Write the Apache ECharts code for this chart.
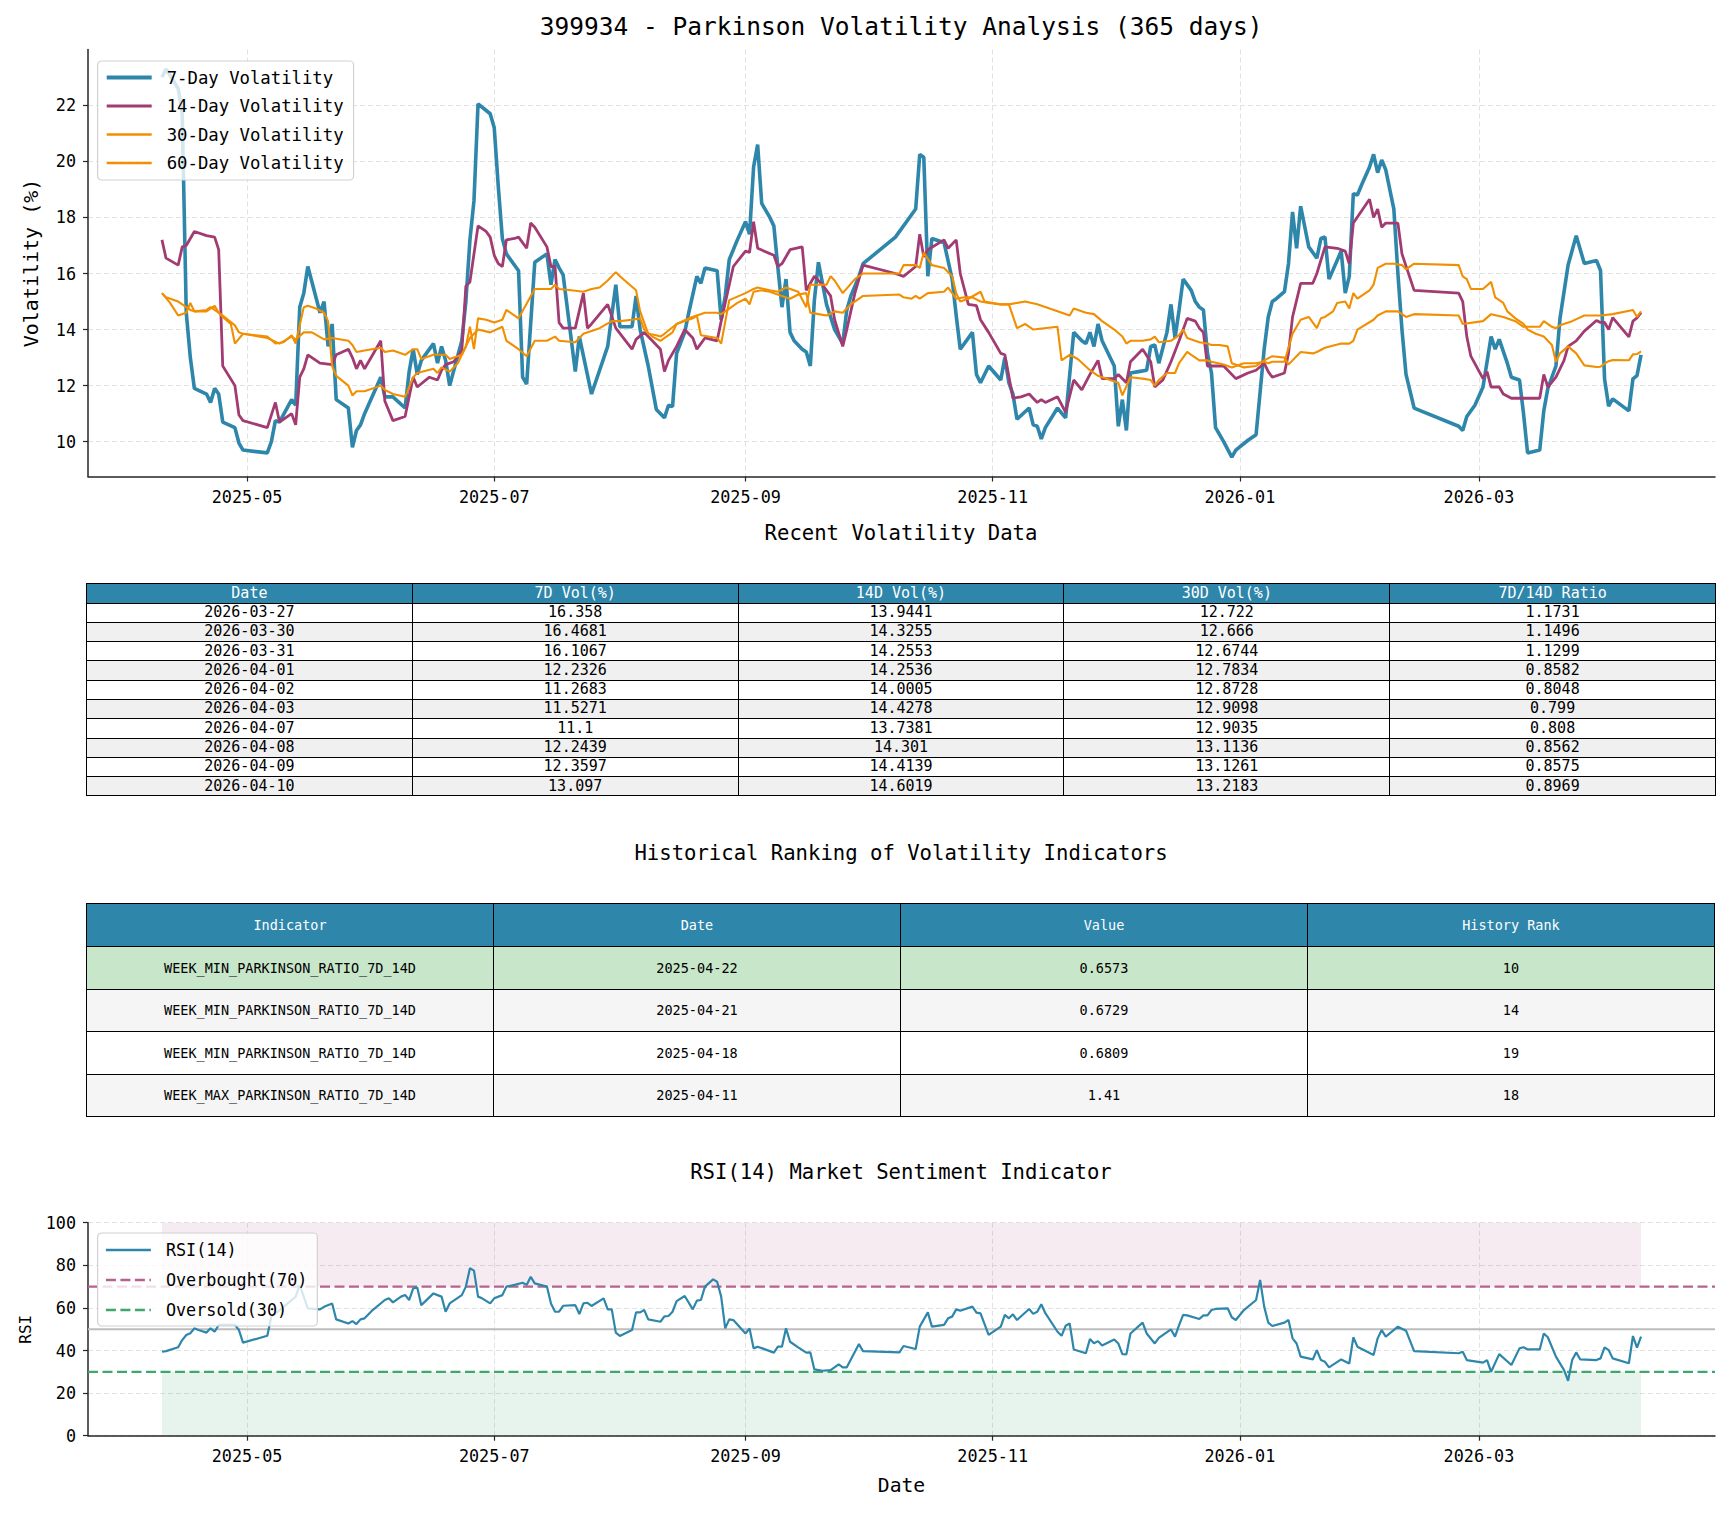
<!DOCTYPE html>
<html><head><meta charset="utf-8">
<script src="https://cdn.jsdelivr.net/npm/echarts@6/dist/echarts.min.js"></script>
<style>
html,body{margin:0;padding:0;background:#fff;}
#wrap{position:relative;width:1729px;height:1513px;overflow:hidden;}
#chart{position:absolute;left:0;top:0;width:1729px;height:1513px;}
table.tb{position:absolute;border-collapse:collapse;table-layout:fixed;font-family:'DejaVu Sans Mono',monospace;color:#000;}
table.tb td{border:1.6px solid #000;padding:0;text-align:center;vertical-align:middle;white-space:nowrap;overflow:hidden;box-sizing:border-box;}
table.tb td.h{background:#2E86AB;color:#fff;}
</style></head>
<body><div id="wrap"><div id="chart"></div><table class="tb" id="t1"></table><table class="tb" id="t2"></table></div>
<script>
// ---------------- DATA ----------------
const xTickLabels = ['2025-05','2025-07','2025-09','2025-11','2026-01','2026-03'];
const volTicks = [10,12,14,16,18,20,22];
const rsiTicks = [0,20,40,60,80,100];

const recentDates = ['2026-03-27','2026-03-30','2026-03-31','2026-04-01','2026-04-02','2026-04-03','2026-04-07','2026-04-08','2026-04-09','2026-04-10'];
const recent7d = [16.358,16.4681,16.1067,12.2326,11.2683,11.5271,11.1,12.2439,12.3597,13.097];
const recent14d = [13.9441,14.3255,14.2553,14.2536,14.0005,14.4278,13.7381,14.301,14.4139,14.6019];
const recent30d = [12.722,12.666,12.6744,12.7834,12.8728,12.9098,12.9035,13.1136,13.1261,13.2183];
const recentRatio = [1.1731,1.1496,1.1299,0.8582,0.8048,0.799,0.808,0.8562,0.8575,0.8969];

const rankIndicators = ['WEEK_MIN_PARKINSON_RATIO_7D_14D','WEEK_MIN_PARKINSON_RATIO_7D_14D','WEEK_MIN_PARKINSON_RATIO_7D_14D','WEEK_MAX_PARKINSON_RATIO_7D_14D'];
const rankDates = ['2025-04-22','2025-04-21','2025-04-18','2025-04-11'];
const rankValues = [0.6573,0.6729,0.6809,1.41];
const rankRanks = [10,14,19,18];

const vol7dEarly = [
['2025-04-10',23.0],['2025-04-11',23.3],['2025-04-14',22.6],['2025-04-15',21.7],['2025-04-16',14.6],['2025-04-17',13.0],['2025-04-18',11.9],['2025-04-21',11.7],['2025-04-22',11.4],['2025-04-23',11.9],['2025-04-24',11.7],['2025-04-25',10.7],['2025-04-28',10.5],['2025-04-29',9.95],['2025-04-30',9.7],
['2025-05-06',9.6],['2025-05-07',10.0],['2025-05-08',10.75],['2025-05-09',10.7],['2025-05-12',11.5],['2025-05-13',11.3],['2025-05-14',14.8],['2025-05-15',15.3],['2025-05-16',16.25],['2025-05-19',14.6],['2025-05-20',15.0],['2025-05-21',13.4],['2025-05-22',14.2],['2025-05-23',11.5],['2025-05-26',11.2],['2025-05-27',9.8],['2025-05-28',10.4],['2025-05-29',10.6],['2025-05-30',11.0],
['2025-06-03',12.3],['2025-06-04',11.6],['2025-06-06',11.6],['2025-06-09',11.2],['2025-06-10',12.5],['2025-06-11',13.3],['2025-06-12',12.4],['2025-06-13',12.9],['2025-06-16',13.5],['2025-06-17',12.8],['2025-06-18',13.4],['2025-06-19',12.9],['2025-06-20',12.0],['2025-06-23',13.6],['2025-06-24',15.0],['2025-06-25',17.2],['2025-06-26',18.6],['2025-06-27',22.05],['2025-06-30',21.7],
['2025-07-01',21.2],['2025-07-02',19.1],['2025-07-03',17.25],['2025-07-04',16.7],['2025-07-07',16.1],['2025-07-08',12.3],['2025-07-09',12.05],['2025-07-11',16.4],['2025-07-14',16.7],['2025-07-15',15.6],['2025-07-16',16.5],['2025-07-17',16.2],['2025-07-18',15.95],['2025-07-21',12.5],['2025-07-22',13.75],['2025-07-25',11.7],['2025-07-27',12.55],['2025-07-29',13.4],['2025-07-31',15.6],
['2025-08-01',14.1],['2025-08-04',14.1],['2025-08-05',15.2],['2025-08-06',14.0],['2025-08-08',12.7],['2025-08-10',11.15],['2025-08-12',10.85],['2025-08-13',11.3],['2025-08-14',11.25],['2025-08-15',13.15],['2025-08-17',13.9],['2025-08-18',14.6],['2025-08-20',15.9],['2025-08-21',15.65],['2025-08-22',16.2],['2025-08-25',16.1],['2025-08-26',14.35],['2025-08-27',15.2],['2025-08-28',16.5],['2025-08-30',17.2],
['2025-09-01',17.85],['2025-09-02',17.4],['2025-09-03',19.8],['2025-09-04',20.6],['2025-09-05',18.5],['2025-09-07',18.0],['2025-09-08',17.7],['2025-09-09',16.2],['2025-09-10',14.8],['2025-09-11',15.8],['2025-09-12',13.9],['2025-09-13',13.6],['2025-09-15',13.3],['2025-09-16',13.2],['2025-09-17',12.7],['2025-09-18',15.05],['2025-09-19',16.4],['2025-09-20',15.65],['2025-09-21',14.9],['2025-09-23',14.0],['2025-09-24',13.75],['2025-09-25',13.5],['2025-09-26',14.7],['2025-09-27',15.2],['2025-09-29',15.9],['2025-09-30',16.35],
['2025-10-08',17.3],['2025-10-13',18.3],['2025-10-14',20.25],['2025-10-15',20.15],['2025-10-16',15.9],['2025-10-17',17.25],['2025-10-19',17.15],['2025-10-20',17.1],['2025-10-22',15.8],['2025-10-23',14.5],['2025-10-24',13.3],['2025-10-27',13.9],['2025-10-28',12.4],['2025-10-29',12.1],['2025-10-31',12.7],
['2025-11-03',12.2],['2025-11-04',13.0],['2025-11-05',12.1],['2025-11-06',11.7],['2025-11-07',10.8],['2025-11-10',11.2],['2025-11-11',10.6],['2025-11-12',10.55],['2025-11-13',10.1],['2025-11-14',10.5],['2025-11-17',11.2],['2025-11-19',10.85],['2025-11-21',13.9],['2025-11-23',13.6],['2025-11-24',13.5],['2025-11-25',13.9],['2025-11-26',13.4],['2025-11-27',14.2],['2025-11-28',13.6],
['2025-12-01',12.7],['2025-12-02',10.55],['2025-12-03',11.5],['2025-12-04',10.4],['2025-12-05',12.45],['2025-12-07',12.5],['2025-12-09',12.55],['2025-12-10',13.4],['2025-12-11',13.45],['2025-12-12',12.8],['2025-12-14',13.9],['2025-12-15',14.9],['2025-12-16',13.7],['2025-12-17',14.7],['2025-12-18',15.8],['2025-12-20',15.4],['2025-12-21',15.0],['2025-12-22',14.8],['2025-12-23',14.7],['2025-12-24',13.15],['2025-12-25',12.45],['2025-12-26',10.5],['2025-12-28',10.0],['2025-12-30',9.45],['2025-12-31',9.7],
['2026-01-03',10.05],['2026-01-05',10.25],['2026-01-07',13.3],['2026-01-08',14.45],['2026-01-09',15.0],['2026-01-10',15.1],['2026-01-12',15.35],['2026-01-13',16.35],['2026-01-14',18.2],['2026-01-15',16.9],['2026-01-16',18.4],['2026-01-18',16.95],['2026-01-20',16.55],['2026-01-21',17.25],['2026-01-22',17.3],['2026-01-23',15.8],['2026-01-26',16.8],['2026-01-27',15.3],['2026-01-28',15.9],['2026-01-29',18.85],['2026-01-30',18.8],['2026-01-31',19.15],
['2026-02-02',19.8],['2026-02-03',20.25],['2026-02-04',19.6],['2026-02-05',20.05],['2026-02-06',19.7],['2026-02-08',18.3],['2026-02-09',16.0],['2026-02-10',14.0],['2026-02-11',12.4],['2026-02-13',11.2],['2026-02-24',10.55],['2026-02-25',10.4],['2026-02-26',10.9],['2026-02-28',11.3],
['2026-03-02',11.95],['2026-03-04',13.75],['2026-03-05',13.3],['2026-03-06',13.65],['2026-03-08',12.8],['2026-03-09',12.3],['2026-03-11',12.2],['2026-03-12',11.0],['2026-03-13',9.6],['2026-03-16',9.7],['2026-03-17',11.1],['2026-03-18',11.9],['2026-03-20',12.7],['2026-03-21',14.4],['2026-03-23',16.3],['2026-03-25',17.35]
];

const vol14dEarly = [
['2025-04-10',17.2],['2025-04-11',16.55],['2025-04-14',16.3],['2025-04-15',16.95],['2025-04-16',17.0],['2025-04-18',17.5],['2025-04-21',17.35],['2025-04-23',17.3],['2025-04-24',16.85],['2025-04-25',12.7],['2025-04-28',12.0],['2025-04-29',10.95],['2025-04-30',10.75],
['2025-05-06',10.5],['2025-05-08',11.4],['2025-05-09',10.7],['2025-05-12',11.0],['2025-05-13',10.6],['2025-05-14',12.3],['2025-05-15',12.6],['2025-05-16',13.1],['2025-05-19',12.8],['2025-05-22',12.75],['2025-05-23',13.1],['2025-05-26',13.3],['2025-05-27',13.0],['2025-05-28',12.6],['2025-05-29',12.9],['2025-05-30',12.6],
['2025-06-03',13.6],['2025-06-04',11.45],['2025-06-06',10.75],['2025-06-09',10.9],['2025-06-11',12.3],['2025-06-12',11.95],['2025-06-15',12.3],['2025-06-17',12.2],['2025-06-18',12.55],['2025-06-19',12.75],['2025-06-21',12.85],['2025-06-23',13.25],['2025-06-24',15.55],['2025-06-25',15.7],['2025-06-27',17.7],['2025-06-29',17.5],['2025-06-30',17.3],
['2025-07-01',16.65],['2025-07-02',16.35],['2025-07-03',16.25],['2025-07-04',17.2],['2025-07-06',17.25],['2025-07-07',17.3],['2025-07-09',16.9],['2025-07-10',17.8],['2025-07-11',17.65],['2025-07-14',16.95],['2025-07-15',16.25],['2025-07-16',16.25],['2025-07-17',14.25],['2025-07-18',14.05],['2025-07-21',14.05],['2025-07-23',15.3],['2025-07-24',14.05],['2025-07-25',14.2],['2025-07-29',14.9],['2025-07-31',14.05],
['2025-08-04',13.3],['2025-08-05',13.65],['2025-08-07',13.9],['2025-08-09',13.6],['2025-08-11',13.3],['2025-08-12',12.5],['2025-08-13',12.9],['2025-08-15',13.4],['2025-08-17',14.0],['2025-08-19',13.7],['2025-08-20',13.3],['2025-08-22',13.7],['2025-08-25',13.6],['2025-08-26',14.3],['2025-08-29',16.25],
['2025-09-01',16.8],['2025-09-02',16.75],['2025-09-03',17.85],['2025-09-04',16.9],['2025-09-08',16.65],['2025-09-09',16.25],['2025-09-10',16.35],['2025-09-12',16.85],['2025-09-15',16.95],['2025-09-16',15.4],['2025-09-18',15.9],['2025-09-20',15.6],['2025-09-22',15.2],['2025-09-23',14.35],['2025-09-25',13.4],['2025-09-26',14.0],['2025-09-28',15.3],['2025-09-30',16.3],
['2025-10-08',16.0],['2025-10-10',15.9],['2025-10-13',16.25],['2025-10-14',17.4],['2025-10-15',16.6],['2025-10-16',16.85],['2025-10-20',17.2],['2025-10-21',16.9],['2025-10-23',17.2],['2025-10-24',16.0],['2025-10-26',14.9],['2025-10-28',14.85],['2025-10-29',14.35],['2025-10-31',13.9],
['2025-11-03',13.15],['2025-11-04',13.1],['2025-11-06',11.55],['2025-11-08',11.6],['2025-11-10',11.7],['2025-11-12',11.4],['2025-11-13',11.5],['2025-11-14',11.4],['2025-11-17',11.6],['2025-11-19',11.05],['2025-11-21',12.2],['2025-11-23',11.85],['2025-11-25',12.4],['2025-11-27',12.9],['2025-11-28',12.25],
['2025-12-01',12.25],['2025-12-02',12.4],['2025-12-04',12.1],['2025-12-05',12.85],['2025-12-08',13.3],['2025-12-10',12.85],['2025-12-11',11.95],['2025-12-13',12.2],['2025-12-15',12.85],['2025-12-17',13.6],['2025-12-19',14.4],['2025-12-21',14.3],['2025-12-22',14.05],['2025-12-23',13.9],['2025-12-24',12.7],['2025-12-28',12.7],['2025-12-31',12.25],
['2026-01-03',12.45],['2026-01-05',12.55],['2026-01-07',12.8],['2026-01-08',12.5],['2026-01-09',12.3],['2026-01-12',12.45],['2026-01-13',13.15],['2026-01-14',14.45],['2026-01-16',15.65],['2026-01-19',15.65],['2026-01-20',16.0],['2026-01-22',16.95],['2026-01-25',16.9],['2026-01-27',16.8],['2026-01-28',16.35],['2026-01-29',17.8],
['2026-02-02',18.65],['2026-02-03',18.0],['2026-02-04',18.3],['2026-02-05',17.65],['2026-02-06',17.8],['2026-02-09',17.8],['2026-02-10',16.7],['2026-02-13',15.4],['2026-02-24',15.3],['2026-02-25',15.0],['2026-02-26',13.75],['2026-02-27',13.05],
['2026-03-02',12.25],['2026-03-03',12.5],['2026-03-04',11.95],['2026-03-06',11.95],['2026-03-07',11.7],['2026-03-09',11.55],['2026-03-16',11.55],['2026-03-17',12.4],['2026-03-18',11.95],['2026-03-20',12.3],['2026-03-22',12.9],['2026-03-23',13.4],['2026-03-25',13.6]
];

const vol30dEarly = [
['2025-04-10',15.3],['2025-04-12',14.95],['2025-04-14',14.5],['2025-04-16',14.6],['2025-04-17',14.95],['2025-04-18',14.65],['2025-04-21',14.65],['2025-04-23',14.85],['2025-04-24',14.6],['2025-04-25',14.45],['2025-04-27',14.2],['2025-04-28',13.5],['2025-04-30',13.85],
['2025-05-06',13.75],['2025-05-08',13.5],['2025-05-10',13.55],['2025-05-12',13.8],['2025-05-13',13.5],['2025-05-15',14.8],['2025-05-16',14.85],['2025-05-18',14.75],['2025-05-20',14.6],['2025-05-21',14.3],['2025-05-22',12.7],['2025-05-23',12.35],['2025-05-26',12.0],['2025-05-27',11.65],['2025-05-28',11.8],['2025-05-30',11.8],
['2025-06-03',12.0],['2025-06-04',11.85],['2025-06-06',11.7],['2025-06-09',11.6],['2025-06-11',12.3],['2025-06-12',12.45],['2025-06-16',12.6],['2025-06-17',12.45],['2025-06-18',12.65],['2025-06-20',12.5],['2025-06-22',12.8],['2025-06-24',13.4],['2025-06-25',14.1],['2025-06-26',13.3],['2025-06-27',14.4],['2025-06-29',14.35],
['2025-07-01',14.25],['2025-07-03',14.35],['2025-07-04',14.7],['2025-07-07',14.4],['2025-07-11',15.45],['2025-07-15',15.45],['2025-07-16',15.6],['2025-07-17',15.45],['2025-07-20',15.4],['2025-07-23',15.35],['2025-07-25',15.45],['2025-07-27',15.5],['2025-07-29',15.75],['2025-07-31',16.05],
['2025-08-01',15.9],['2025-08-03',15.65],['2025-08-05',15.4],['2025-08-06',14.65],['2025-08-08',13.85],['2025-08-10',13.8],['2025-08-11',13.75],['2025-08-12',13.85],['2025-08-15',14.2],['2025-08-19',14.4],['2025-08-20',14.5],['2025-08-21',13.8],['2025-08-25',13.7],['2025-08-26',13.5],['2025-08-28',15.05],
['2025-09-01',15.3],['2025-09-03',15.45],['2025-09-04',15.5],['2025-09-07',15.4],['2025-09-09',15.35],['2025-09-11',15.5],['2025-09-14',15.35],['2025-09-16',14.8],['2025-09-17',15.6],['2025-09-21',15.6],['2025-09-22',15.9],['2025-09-23',15.75],['2025-09-25',15.3],['2025-09-28',15.8],['2025-09-30',16.0],
['2025-10-09',16.0],['2025-10-10',16.3],['2025-10-13',16.3],['2025-10-14',16.2],['2025-10-15',16.75],['2025-10-17',16.3],['2025-10-20',16.2],['2025-10-22',15.9],['2025-10-23',15.3],['2025-10-24',15.0],['2025-10-26',15.1],['2025-10-29',15.35],['2025-10-30',15.0],
['2025-11-01',14.95],['2025-11-03',14.9],['2025-11-05',14.9],['2025-11-07',14.05],['2025-11-09',14.2],['2025-11-11',14.0],['2025-11-17',14.1],['2025-11-18',12.9],['2025-11-20',13.1],['2025-11-22',12.95],['2025-11-25',12.55],['2025-11-27',12.35],['2025-11-30',12.2],
['2025-12-02',12.1],['2025-12-03',11.65],['2025-12-05',12.3],['2025-12-08',12.25],['2025-12-10',12.2],['2025-12-11',12.0],['2025-12-12',12.2],['2025-12-14',12.45],['2025-12-16',12.45],['2025-12-17',12.8],['2025-12-19',13.2],['2025-12-20',13.1],['2025-12-22',12.9],['2025-12-24',12.9],['2025-12-25',12.85],['2025-12-28',12.75],['2025-12-30',12.65],
['2026-01-02',12.8],['2026-01-05',12.8],['2026-01-07',12.85],['2026-01-08',12.8],['2026-01-09',12.85],['2026-01-12',12.85],['2026-01-14',13.85],['2026-01-16',14.35],['2026-01-18',14.45],['2026-01-20',14.05],['2026-01-21',14.4],['2026-01-22',14.45],['2026-01-24',14.65],['2026-01-25',14.95],['2026-01-27',15.0],['2026-01-28',14.75],['2026-01-29',15.3],['2026-01-30',15.1],
['2026-02-02',15.4],['2026-02-03',15.6],['2026-02-04',16.2],['2026-02-06',16.35],['2026-02-08',16.35],['2026-02-10',16.3],['2026-02-11',16.15],['2026-02-13',16.35],['2026-02-24',16.3],['2026-02-25',15.9],['2026-02-26',15.8],['2026-02-27',15.45],
['2026-03-02',15.45],['2026-03-04',15.7],['2026-03-05',15.15],['2026-03-07',14.95],['2026-03-08',14.65],['2026-03-10',14.4],['2026-03-12',14.2],['2026-03-13',14.0],['2026-03-15',13.85],['2026-03-17',13.75],['2026-03-19',13.45],['2026-03-20',12.85],['2026-03-21',13.15],['2026-03-23',13.4],['2026-03-25',13.15]
];

const vol60d = [
['2025-04-10',15.3],['2025-04-11',15.15],['2025-04-14',15.0],['2025-04-17',14.7],['2025-04-18',14.65],['2025-04-21',14.7],['2025-04-22',14.8],['2025-04-23',14.7],['2025-04-25',14.5],['2025-04-28',14.15],['2025-04-29',13.9],['2025-04-30',13.85],
['2025-05-06',13.7],['2025-05-09',13.5],['2025-05-12',13.75],['2025-05-13',13.65],['2025-05-15',13.9],['2025-05-17',13.9],['2025-05-20',13.65],['2025-05-22',13.7],['2025-05-26',13.6],['2025-05-27',13.45],['2025-05-28',13.2],['2025-05-30',13.25],
['2025-06-03',13.35],['2025-06-04',13.2],['2025-06-06',13.25],['2025-06-09',13.1],['2025-06-11',13.3],['2025-06-12',13.3],['2025-06-13',12.95],['2025-06-16',13.1],['2025-06-19',13.1],['2025-06-20',12.95],['2025-06-23',13.1],['2025-06-25',13.7],['2025-06-27',14.0],['2025-06-30',13.9],
['2025-07-03',14.1],['2025-07-04',13.6],['2025-07-07',13.3],['2025-07-09',13.05],['2025-07-11',13.6],['2025-07-14',13.6],['2025-07-16',13.75],['2025-07-17',13.6],['2025-07-21',13.55],['2025-07-23',13.85],['2025-07-25',13.95],['2025-07-27',14.05],['2025-07-30',14.3],
['2025-08-01',14.3],['2025-08-04',14.35],['2025-08-06',14.4],['2025-08-07',14.0],['2025-08-09',13.75],['2025-08-11',13.6],['2025-08-14',13.9],['2025-08-15',14.2],['2025-08-18',14.4],['2025-08-20',14.5],['2025-08-22',14.6],['2025-08-25',14.6],['2025-08-26',14.55],['2025-08-28',14.75],['2025-08-30',14.95],
['2025-09-01',15.1],['2025-09-02',14.9],['2025-09-03',15.35],['2025-09-05',15.4],['2025-09-07',15.35],['2025-09-10',15.2],['2025-09-12',15.1],['2025-09-14',15.25],['2025-09-16',15.3],['2025-09-17',14.6],['2025-09-19',14.55],['2025-09-21',14.5],['2025-09-23',14.65],['2025-09-25',14.6],['2025-09-27',14.9],['2025-09-30',15.2],
['2025-10-09',15.25],['2025-10-10',15.15],['2025-10-12',15.1],['2025-10-13',15.2],['2025-10-14',15.1],['2025-10-16',15.3],['2025-10-20',15.35],['2025-10-21',15.5],['2025-10-23',15.1],['2025-10-25',15.15],['2025-10-27',15.15],['2025-10-29',15.0],['2025-10-31',14.95],
['2025-11-03',14.9],['2025-11-05',14.9],['2025-11-09',15.0],['2025-11-12',14.9],['2025-11-17',14.65],['2025-11-20',14.5],['2025-11-21',14.75],['2025-11-24',14.6],['2025-11-26',14.55],['2025-11-28',14.3],
['2025-12-01',14.0],['2025-12-03',13.75],['2025-12-04',13.5],['2025-12-05',13.6],['2025-12-08',13.6],['2025-12-10',13.65],['2025-12-11',13.75],['2025-12-12',13.55],['2025-12-15',13.6],['2025-12-17',13.8],['2025-12-18',14.0],['2025-12-19',13.7],['2025-12-22',13.55],['2025-12-24',13.5],['2025-12-25',13.45],['2025-12-27',13.45],['2025-12-29',13.4],['2025-12-30',12.8],
['2026-01-02',12.65],['2026-01-05',12.7],['2026-01-07',12.9],['2026-01-09',13.05],['2026-01-12',13.0],['2026-01-13',12.75],['2026-01-14',12.9],['2026-01-16',13.2],['2026-01-19',13.15],['2026-01-20',13.2],['2026-01-22',13.35],['2026-01-26',13.5],['2026-01-28',13.5],['2026-01-29',13.6],['2026-01-30',14.0],
['2026-02-03',14.35],['2026-02-04',14.5],['2026-02-06',14.65],['2026-02-09',14.65],['2026-02-11',14.45],['2026-02-13',14.55],['2026-02-24',14.5],['2026-02-25',14.2],
['2026-03-02',14.3],['2026-03-04',14.55],['2026-03-07',14.45],['2026-03-10',14.3],['2026-03-12',14.1],['2026-03-16',14.1],['2026-03-17',14.3],['2026-03-19',14.1],['2026-03-20',14.05],['2026-03-21',14.15],['2026-03-24',14.3],['2026-03-27',14.5],['2026-03-31',14.5],['2026-04-03',14.55],['2026-04-08',14.7],['2026-04-09',14.45],['2026-04-10',14.65]
];

const rsi14 = [
['2025-04-10',39.4],['2025-04-11',39.7],['2025-04-14',41.5],['2025-04-15',44.9],['2025-04-16',47.3],['2025-04-17',48.1],['2025-04-18',50.4],['2025-04-19',49.6],['2025-04-21',48.4],['2025-04-22',50.4],['2025-04-23',48.8],['2025-04-24',52.0],['2025-04-28',52.0],['2025-04-29',49.6],['2025-04-30',43.7],
['2025-05-06',46.9],['2025-05-07',55.9],['2025-05-09',58.8],['2025-05-13',65.3],['2025-05-14',70.7],['2025-05-16',59.8],['2025-05-19',59.3],['2025-05-20',60.5],['2025-05-22',62.1],['2025-05-23',54.6],['2025-05-26',52.7],['2025-05-27',53.8],['2025-05-28',52.4],['2025-05-29',54.6],['2025-05-30',55.1],
['2025-06-01',59.0],['2025-06-04',63.7],['2025-06-05',64.5],['2025-06-06',62.6],['2025-06-08',65.3],['2025-06-09',66.1],['2025-06-10',63.7],['2025-06-11',69.2],['2025-06-12',69.6],['2025-06-13',61.3],['2025-06-16',66.8],['2025-06-17',66.0],['2025-06-18',65.3],['2025-06-19',58.2],['2025-06-20',62.1],['2025-06-23',66.0],['2025-06-24',70.0],['2025-06-25',78.6],['2025-06-26',77.5],['2025-06-27',65.3],['2025-06-28',64.5],['2025-06-30',62.1],
['2025-07-01',64.5],['2025-07-03',66.0],['2025-07-04',70.0],['2025-07-06',70.8],['2025-07-08',71.8],['2025-07-09',70.8],['2025-07-10',74.6],['2025-07-11',71.5],['2025-07-14',70.0],['2025-07-15',62.1],['2025-07-16',58.2],['2025-07-17',58.2],['2025-07-18',61.0],['2025-07-21',61.3],['2025-07-22',57.1],['2025-07-23',62.1],['2025-07-24',62.4],['2025-07-25',60.9],['2025-07-28',64.5],['2025-07-29',59.3],['2025-07-30',59.3],['2025-07-31',48.4],
['2025-08-01',46.8],['2025-08-04',49.6],['2025-08-05',57.9],['2025-08-06',57.9],['2025-08-07',59.0],['2025-08-08',54.6],['2025-08-11',53.5],['2025-08-12',56.0],['2025-08-13',56.2],['2025-08-14',58.2],['2025-08-15',63.2],['2025-08-17',65.6],['2025-08-19',59.3],['2025-08-20',63.4],['2025-08-21',63.7],['2025-08-22',70.0],['2025-08-24',73.4],['2025-08-25',72.3],['2025-08-26',65.3],['2025-08-27',50.4],['2025-08-28',54.6],['2025-08-29',54.3],
['2025-09-01',48.0],['2025-09-02',50.4],['2025-09-03',41.0],['2025-09-04',41.8],['2025-09-08',39.0],['2025-09-09',41.8],['2025-09-10',41.8],['2025-09-11',50.4],['2025-09-12',44.1],['2025-09-14',41.5],['2025-09-16',39.0],['2025-09-17',39.1],['2025-09-18',31.1],['2025-09-20',30.5],['2025-09-22',30.8],['2025-09-24',33.5],['2025-09-25',32.1],['2025-09-26',32.1],['2025-09-29',43.0],['2025-09-30',39.7],
['2025-10-09',39.1],['2025-10-10',42.1],['2025-10-13',40.7],['2025-10-14',51.2],['2025-10-16',57.9],['2025-10-17',51.2],['2025-10-20',52.0],['2025-10-21',55.1],['2025-10-22',55.9],['2025-10-23',59.3],['2025-10-24',58.7],['2025-10-27',60.6],['2025-10-28',57.8],['2025-10-29',57.4],['2025-10-31',47.3],
['2025-11-03',51.2],['2025-11-04',56.7],['2025-11-05',55.1],['2025-11-06',57.0],['2025-11-07',54.3],['2025-11-10',59.5],['2025-11-11',57.2],['2025-11-12',58.2],['2025-11-13',61.7],['2025-11-14',57.5],['2025-11-17',48.8],['2025-11-18',46.9],['2025-11-19',51.6],['2025-11-20',52.7],['2025-11-21',40.5],['2025-11-24',38.7],['2025-11-25',45.4],['2025-11-26',43.4],['2025-11-27',44.4],['2025-11-28',42.3],
['2025-12-01',45.2],['2025-12-02',43.3],['2025-12-03',38.3],['2025-12-04',38.2],['2025-12-05',48.0],['2025-12-08',53.1],['2025-12-09',48.0],['2025-12-11',43.3],['2025-12-12',45.9],['2025-12-15',49.9],['2025-12-16',46.5],['2025-12-17',51.9],['2025-12-18',56.7],['2025-12-19',56.5],['2025-12-22',54.8],['2025-12-23',56.5],['2025-12-24',56.5],['2025-12-25',59.0],['2025-12-26',59.5],['2025-12-29',59.8],['2025-12-30',55.6],['2025-12-31',54.3],
['2026-01-02',59.0],['2026-01-05',63.7],['2026-01-06',73.1],['2026-01-07',60.6],['2026-01-08',53.1],['2026-01-09',51.5],['2026-01-12',53.1],['2026-01-13',54.3],['2026-01-14',45.7],['2026-01-15',43.3],['2026-01-16',37.1],['2026-01-19',35.8],['2026-01-20',40.2],['2026-01-21',35.5],['2026-01-22',34.7],['2026-01-23',32.1],['2026-01-26',35.8],['2026-01-28',33.9],['2026-01-29',46.2],['2026-01-30',41.8],
['2026-02-03',37.9],['2026-02-04',45.7],['2026-02-05',49.6],['2026-02-06',46.5],['2026-02-09',51.2],['2026-02-11',49.3],['2026-02-13',39.7],['2026-02-24',38.7],['2026-02-25',39.4],['2026-02-26',35.5],
['2026-03-02',34.3],['2026-03-03',35.5],['2026-03-04',30.0],['2026-03-06',38.3],['2026-03-09',33.2],['2026-03-11',41.0],['2026-03-12',41.5],['2026-03-13',40.5],['2026-03-16',40.5],['2026-03-17',48.0],['2026-03-18',46.2],['2026-03-20',37.1],['2026-03-22',30.8],['2026-03-23',25.8],['2026-03-24',35.5],['2026-03-25',39.1],['2026-03-26',35.8],['2026-03-30',35.5],['2026-03-31',36.3],['2026-04-01',41.5],['2026-04-02',40.2],['2026-04-03',36.3],['2026-04-07',34.0],['2026-04-08',46.8],['2026-04-09',41.3],['2026-04-10',46.5]
];

const rsiOverbought = 70, rsiOversold = 30, rsiMid = 50;

// ---------------- TABLES ----------------
function buildTable(id, pos, headers, rows, rowBg, headH, rowH, fontSize){
  const t = document.getElementById(id);
  t.style.left = pos.left + 'px'; t.style.top = pos.top + 'px'; t.style.width = pos.width + 'px';
  t.style.fontSize = fontSize + 'px';
  let html = '<tr style="height:'+headH+'px">' + headers.map(h => '<td class="h" style="height:'+headH+'px">'+h+'</td>').join('') + '</tr>';
  rows.forEach((r,i) => {
    html += '<tr style="height:'+rowH+'px;background:'+rowBg(i)+'">' + r.map(c => '<td style="height:'+rowH+'px;line-height:'+(rowH-2)+'px">'+c+'</td>').join('') + '</tr>';
  });
  t.innerHTML = html;
}
buildTable('t1', {left:86, top:582.5, width:1630},
  ['Date','7D Vol(%)','14D Vol(%)','30D Vol(%)','7D/14D Ratio'],
  recentDates.map((d,i)=>[d, String(recent7d[i]), String(recent14d[i]), String(recent30d[i]), String(recentRatio[i])]),
  i => (i % 2 === 0 ? '#FFFFFF' : '#F0F0F0'), 20, 19.3, 15);
buildTable('t2', {left:86, top:903, width:1629},
  ['Indicator','Date','Value','History Rank'],
  rankIndicators.map((s,i)=>[s, rankDates[i], String(rankValues[i]), String(rankRanks[i])]),
  i => (i === 0 ? '#C8E6C9' : (i % 2 === 1 ? '#F5F5F5' : '#FFFFFF')), 43, 42.6, 13.5);

// ---------------- CHART ----------------
const FONT = "'DejaVu Sans Mono', monospace";
function ts(s){ const p = s.split('-').map(Number); return new Date(p[0], p[1]-1, p[2] || 1).getTime(); }
const withRecent = (early, vals) => early.concat(recentDates.map((d,i)=>[d, vals[i]]));
const vol7d = withRecent(vol7dEarly, recent7d);
const vol14d = withRecent(vol14dEarly, recent14d);
const vol30d = withRecent(vol30dEarly, recent30d);
const toTs = arr => arr.map(p => [ts(p[0]), p[1]]);

const dStart = ts(vol7d[0][0]), dEnd = ts(vol7d[vol7d.length-1][0]);
const xPad = 0.05 * (dEnd - dStart);
const xMin = dStart - xPad, xMax = dEnd + xPad;
const allVol = [].concat(vol7d, vol14d, vol30d, vol60d).map(p => p[1]);
const vMin = Math.min.apply(null, allVol), vMax = Math.max.apply(null, allVol);
const yPad = 0.05 * (vMax - vMin);
const yMin = vMin - yPad, yMax = vMax + yPad;
const xTickVals = xTickLabels.map(ts);
const fmtX = v => { const d = new Date(v); return d.getFullYear() + '-' + String(d.getMonth()+1).padStart(2,'0'); };

const C_BLUE = '#2E86AB', C_PURPLE = '#A23B72', C_ORANGE = '#F18F01', C_OB = '#B5628E', C_OS = '#3FA76C';
const AXC = '#262626';
const gridLine = {show:true, lineStyle:{type:[5,3], color:'#E2E2E2', width:1}};
function xAxisDef(gi, extra){
  return Object.assign({
    type:'value', gridIndex:gi, min:xMin, max:xMax, scale:true,
    axisLine:{show:true, onZero:false, lineStyle:{color:AXC, width:1.5}},
    axisTick:{show:true, length:5, customValues:xTickVals, lineStyle:{color:AXC, width:1.2}},
    axisLabel:{customValues:xTickVals, formatter:fmtX, fontSize:16.8, color:'#000', fontFamily:FONT, margin:12, hideOverlap:false},
    splitLine:gridLine, minorTick:{show:false}, minorSplitLine:{show:false}
  }, extra||{});
}
const legendBase = {
  orient:'vertical', left:97.6, itemWidth:45, itemHeight:14, selectedMode:false,
  backgroundColor:'rgba(255,255,255,0.8)', borderColor:'#D2D2D2', borderWidth:1.2, borderRadius:4,
  itemStyle:{opacity:0, borderWidth:0}
};

const option = {
  animation:false,
  textStyle:{fontFamily:FONT},
  title:[
    {text:'399934 - Parkinson Volatility Analysis (365 days)', left:901, top:14, textAlign:'center', padding:0, textStyle:{fontFamily:FONT, fontSize:24.5, fontWeight:'normal', color:'#000'}},
    {text:'Recent Volatility Data', left:901, top:522, textAlign:'center', padding:0, textStyle:{fontFamily:FONT, fontSize:20.6, fontWeight:'normal', color:'#000'}},
    {text:'Historical Ranking of Volatility Indicators', left:901, top:842, textAlign:'center', padding:0, textStyle:{fontFamily:FONT, fontSize:20.6, fontWeight:'normal', color:'#000'}},
    {text:'RSI(14) Market Sentiment Indicator', left:901, top:1161, textAlign:'center', padding:0, textStyle:{fontFamily:FONT, fontSize:20.6, fontWeight:'normal', color:'#000'}}
  ],
  grid:[
    {left:88, top:49.5, width:1627, height:427},
    {left:88, top:1222.7, width:1627, height:213}
  ],
  xAxis:[
    xAxisDef(0),
    xAxisDef(1, {name:'Date', nameLocation:'middle', nameGap:40, nameTextStyle:{fontSize:19.7, color:'#000', fontFamily:FONT}})
  ],
  yAxis:[
    {type:'value', gridIndex:0, min:yMin, max:yMax, scale:true,
     axisLine:{show:true, lineStyle:{color:AXC, width:1.5}},
     axisTick:{show:true, length:5, customValues:volTicks, lineStyle:{color:AXC, width:1.2}},
     axisLabel:{customValues:volTicks, fontSize:16.8, color:'#000', fontFamily:FONT, margin:12},
     splitLine:gridLine,
     name:'Volatility (%)', nameLocation:'middle', nameGap:47, nameTextStyle:{fontSize:20, color:'#000', fontFamily:FONT}},
    {type:'value', gridIndex:1, min:0, max:100, interval:20,
     axisLine:{show:true, lineStyle:{color:AXC, width:1.5}},
     axisTick:{show:true, length:5, customValues:rsiTicks, lineStyle:{color:AXC, width:1.2}},
     axisLabel:{customValues:rsiTicks, fontSize:16.8, color:'#000', fontFamily:FONT, margin:12},
     splitLine:gridLine,
     name:'RSI', nameLocation:'middle', nameGap:55, nameTextStyle:{fontSize:16, color:'#000', fontFamily:FONT}}
  ],
  legend:[
    Object.assign({}, legendBase, {
     data:[
       {name:'7-Day Volatility', lineStyle:{width:4.2, color:C_BLUE}},
       {name:'14-Day Volatility', lineStyle:{width:3.2, color:C_PURPLE}},
       {name:'30-Day Volatility', lineStyle:{width:2.3, color:C_ORANGE}},
       {name:'60-Day Volatility', lineStyle:{width:2.3, color:C_ORANGE}}
     ],
     top:61, itemGap:8.5, padding:[6.5,10,7,7],
     textStyle:{fontFamily:FONT, fontSize:17.3, color:'#000', lineHeight:20, padding:[0,0,0,10]}}),
    Object.assign({}, legendBase, {
     data:[
       {name:'RSI(14)', lineStyle:{width:2.6, color:C_BLUE}},
       {name:'Overbought(70)', lineStyle:{width:2.4, color:C_OB, type:[10,4.5]}},
       {name:'Oversold(30)', lineStyle:{width:2.4, color:C_OS, type:[10,4.5]}}
     ],
     top:1233, itemGap:10, padding:[7,10,6,7],
     textStyle:{fontFamily:FONT, fontSize:16.8, color:'#000', lineHeight:20, padding:[0,0,0,10]}})
  ],
  series:[
    {name:'7-Day Volatility', type:'line', xAxisIndex:0, yAxisIndex:0, data:toTs(vol7d), symbol:'none', lineStyle:{width:3.6, color:C_BLUE}, itemStyle:{color:C_BLUE}},
    {name:'14-Day Volatility', type:'line', xAxisIndex:0, yAxisIndex:0, data:toTs(vol14d), symbol:'none', lineStyle:{width:2.8, color:C_PURPLE}, itemStyle:{color:C_PURPLE}},
    {name:'30-Day Volatility', type:'line', xAxisIndex:0, yAxisIndex:0, data:toTs(vol30d), symbol:'none', lineStyle:{width:2.1, color:C_ORANGE}, itemStyle:{color:C_ORANGE}},
    {name:'60-Day Volatility', type:'line', xAxisIndex:0, yAxisIndex:0, data:toTs(vol60d), symbol:'none', lineStyle:{width:2.1, color:C_ORANGE}, itemStyle:{color:C_ORANGE}},
    {name:'mid50', type:'line', xAxisIndex:1, yAxisIndex:1, data:[[xMin,rsiMid],[xMax,rsiMid]], symbol:'none', lineStyle:{width:2, color:'#BDBDBD'}, z:1, silent:true},
    {name:'Overbought(70)', type:'line', xAxisIndex:1, yAxisIndex:1, data:[[xMin,rsiOverbought],[xMax,rsiOverbought]], symbol:'none', lineStyle:{width:2.2, type:[10,4.5], color:C_OB}, itemStyle:{color:C_OB}, z:2},
    {name:'Oversold(30)', type:'line', xAxisIndex:1, yAxisIndex:1, data:[[xMin,rsiOversold],[xMax,rsiOversold]], symbol:'none', lineStyle:{width:2.2, type:[10,4.5], color:C_OS}, itemStyle:{color:C_OS}, z:2},
    {name:'RSI(14)', type:'line', xAxisIndex:1, yAxisIndex:1, data:toTs(rsi14), symbol:'none', lineStyle:{width:2.2, color:C_BLUE}, itemStyle:{color:C_BLUE}, z:3,
     markArea:{silent:true, data:[
       [{xAxis:dStart, yAxis:rsiOverbought, itemStyle:{color:'rgba(162,59,114,0.1)'}},{xAxis:dEnd, yAxis:100}],
       [{xAxis:dStart, yAxis:0, itemStyle:{color:'rgba(58,166,106,0.12)'}},{xAxis:dEnd, yAxis:rsiOversold}]
     ]}}
  ]
};

const chart = echarts.init(document.getElementById('chart'), null, {renderer:'svg', width:1729, height:1513});
chart.setOption(option);
</script></body></html>
